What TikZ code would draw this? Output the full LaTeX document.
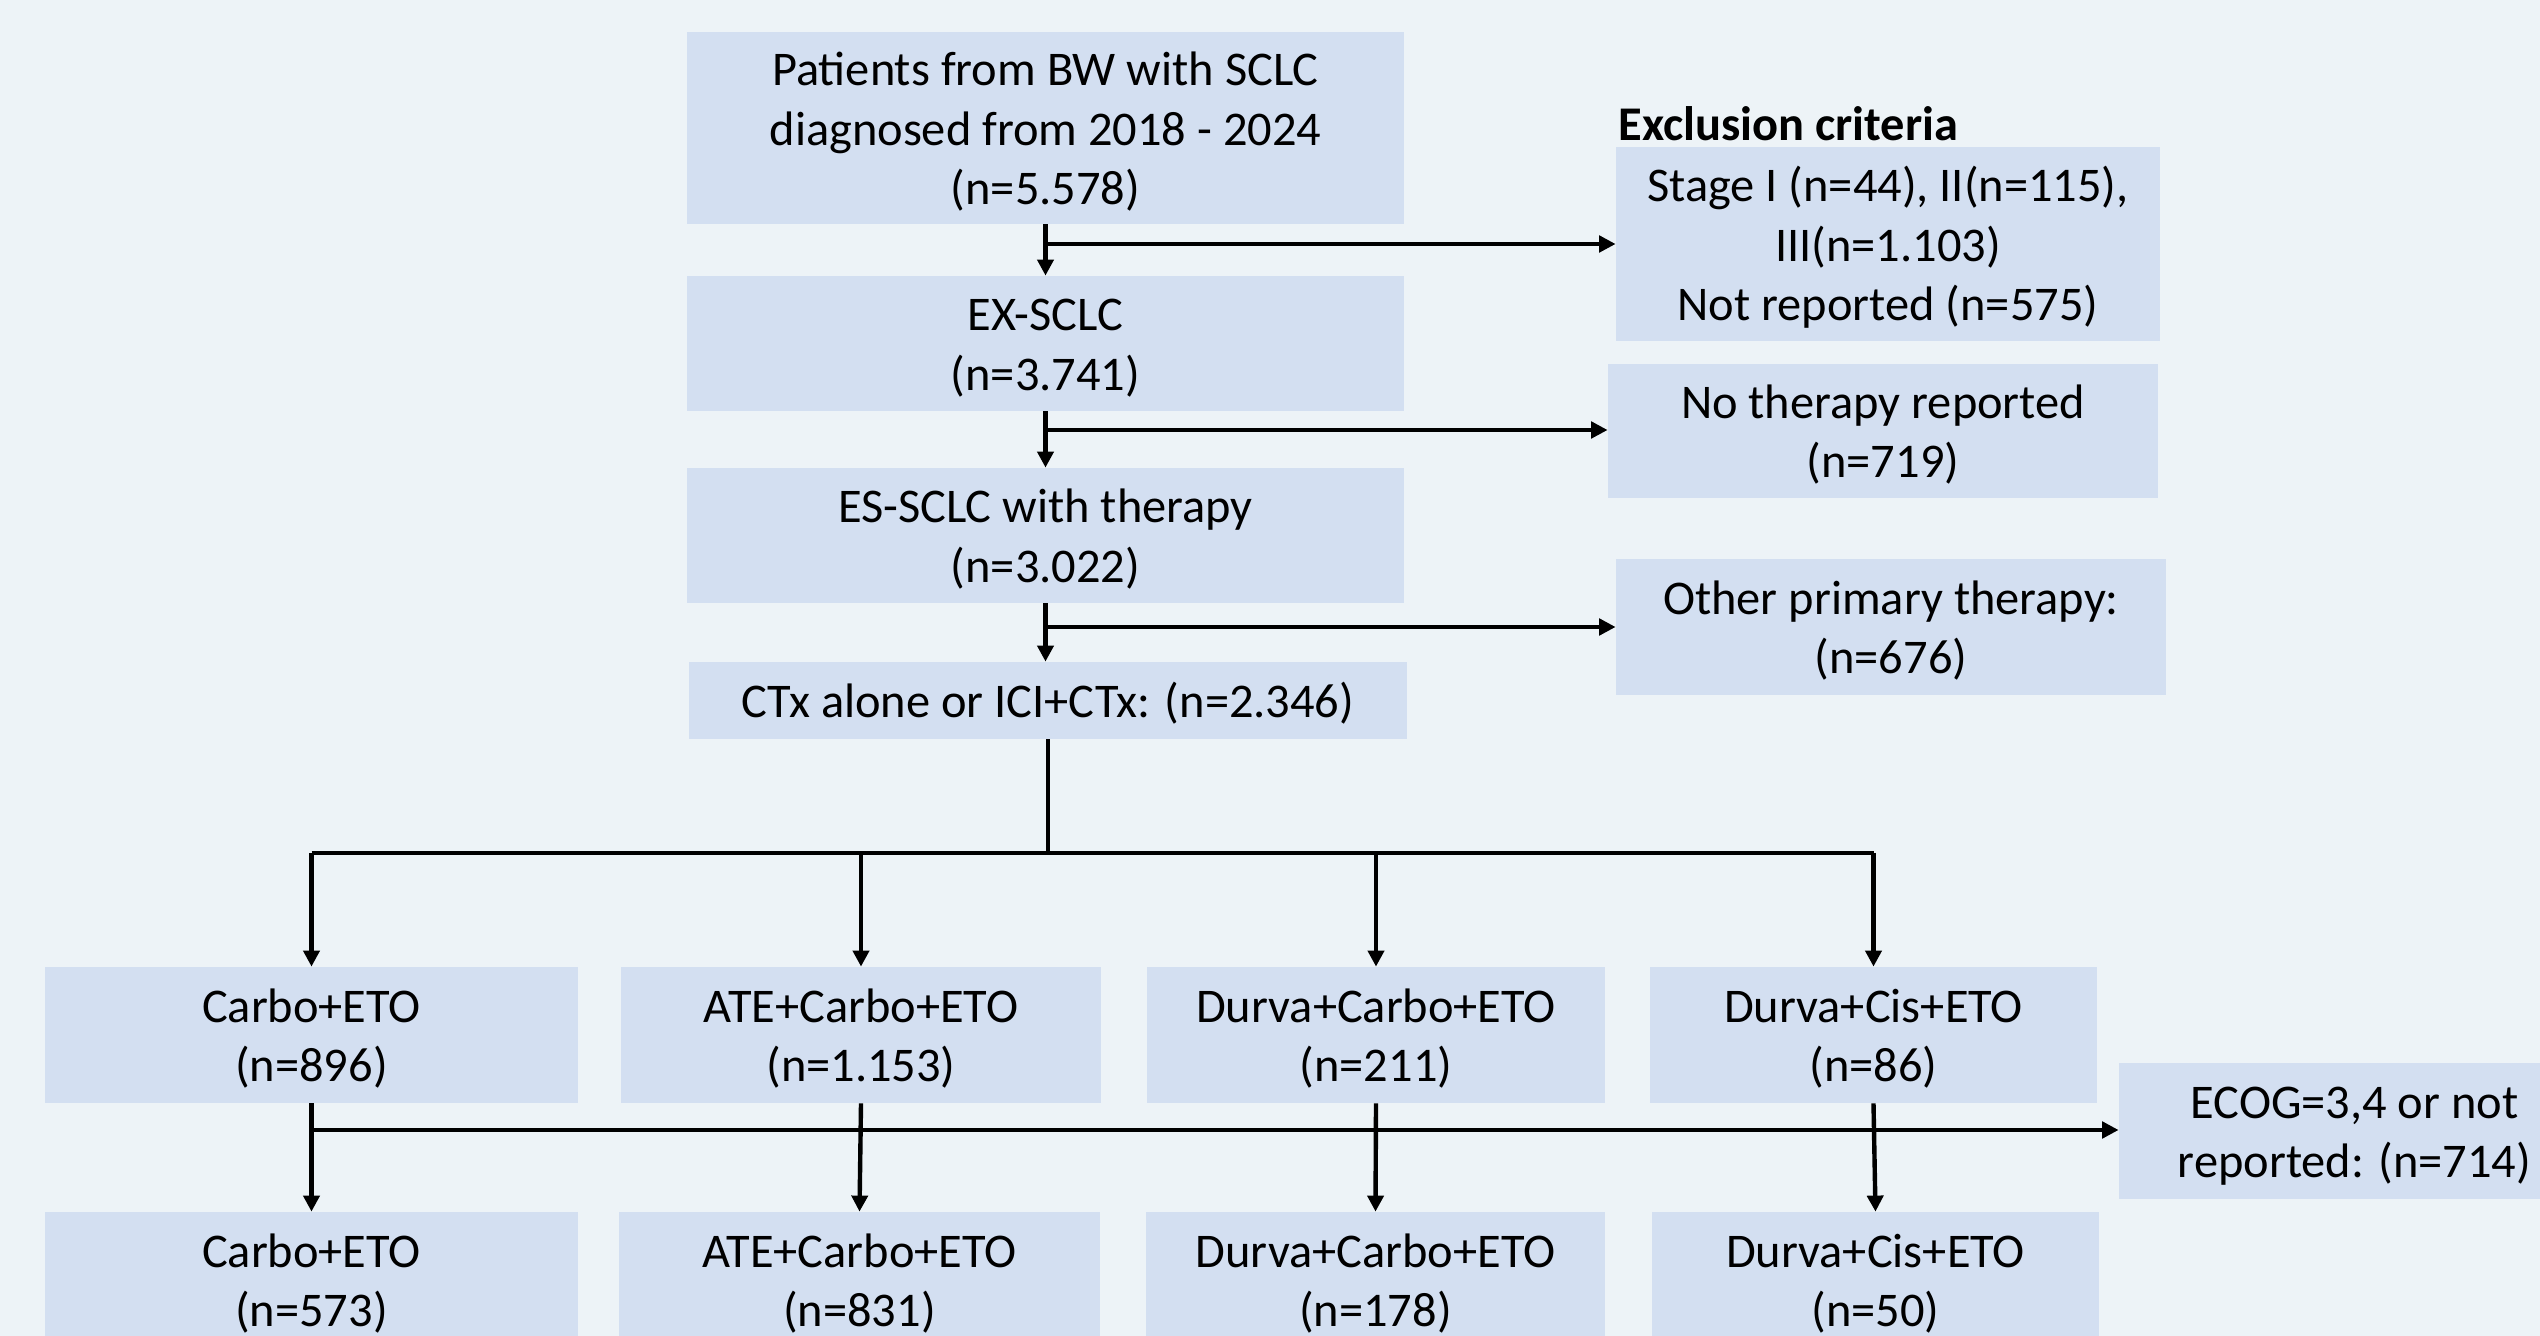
\documentclass[tikz,border=0pt]{standalone}
\usepackage{fontspec}
\setmainfont{Carlito}
\usetikzlibrary{arrows.meta,calc}
\definecolor{bgc}{HTML}{EDF3F7}
\definecolor{boxc}{HTML}{D3DFF1}
\newsavebox{\txtbox}
\newcommand{\bxtext}[1]{\sbox{\txtbox}{\begin{tabular}{@{}c@{}}#1\end{tabular}}\raisebox{-2.6pt}[\ht\txtbox][\dp\txtbox]{\usebox{\txtbox}}}
\begin{document}
\begin{tikzpicture}[x=0.5pt,y=-0.5pt,
  box/.style={fill=boxc, draw=none, inner sep=0pt,
    font=\fontsize{24.2}{29.6}\selectfont},
  thinarrow/.style={line width=2.2pt, -{Triangle[length=8pt,width=8pt]}},
  thinline/.style={line width=2.2pt},
  thickarrow/.style={line width=2.1pt, -{Triangle[length=8.3pt,width=8.2pt]}}]
\useasboundingbox (0,0) rectangle (2540,1336);
\fill[bgc] (0,0) rectangle (2540,1336);

% main column
\node[box, minimum width=358.5pt, minimum height=96pt] (top) at (1045.5,128)
  {\bxtext{Patients from BW with SCLC\\diagnosed from 2018 - 2024\\(n=5.578)}};
\node[box, minimum width=358.5pt, minimum height=67.5pt] (ex) at (1045.5,343.5)
  {\bxtext{EX-SCLC\\(n=3.741)}};
\node[box, minimum width=358.5pt, minimum height=67.5pt] (es) at (1045.5,535.5)
  {\bxtext{ES-SCLC with therapy\\(n=3.022)}};
\node[box, minimum width=359pt, minimum height=38.5pt] (ctx) at (1048,700.5)
  {\bxtext{CTx alone or ICI+CTx: (n=2.346)}};

% exclusions
\node[anchor=west, inner sep=0pt, font=\fontsize{24.2}{29.6}\selectfont\bfseries] (lbl) at (1618,124)
  {Exclusion criteria};
\node[box, minimum width=272pt, minimum height=97pt] (excl) at (1888,244)
  {\bxtext{Stage I (n=44), II(n=115),\\III(n=1.103)\\Not reported (n=575)}};
\node[box, minimum width=275pt, minimum height=67pt] (noth) at (1883,431)
  {\bxtext{No therapy reported\\(n=719)}};
\node[box, minimum width=275pt, minimum height=68pt] (other) at (1891,627)
  {\bxtext{Other primary therapy:\\(n=676)}};

% row 1
\node[box, minimum width=266.5pt, minimum height=68pt] (r1a) at (311.5,1035) {\bxtext{Carbo+ETO\\(n=896)}};
\node[box, minimum width=240pt, minimum height=68pt] (r1b) at (861,1035) {\bxtext{ATE+Carbo+ETO\\(n=1.153)}};
\node[box, minimum width=229pt, minimum height=68pt] (r1c) at (1376,1035) {\bxtext{Durva+Carbo+ETO\\(n=211)}};
\node[box, minimum width=223.5pt, minimum height=68pt] (r1d) at (1873.5,1035) {\bxtext{Durva+Cis+ETO\\(n=86)}};

% row 2
\node[box, minimum width=266.5pt, minimum height=68pt] (r2a) at (311.5,1280) {\bxtext{Carbo+ETO\\(n=573)}};
\node[box, minimum width=240.5pt, minimum height=68pt] (r2b) at (859.5,1280) {\bxtext{ATE+Carbo+ETO\\(n=831)}};
\node[box, minimum width=229.5pt, minimum height=68pt] (r2c) at (1375.5,1280) {\bxtext{Durva+Carbo+ETO\\(n=178)}};
\node[box, minimum width=223.5pt, minimum height=68pt] (r2d) at (1875.5,1280) {\bxtext{Durva+Cis+ETO\\(n=50)}};

% ECOG
\node[box, minimum width=235.5pt, minimum height=68pt] (ecog) at (2354.5,1131)
  {\bxtext{ECOG=3,4 or not\\reported: (n=714)}};

% vertical flow
\draw[thinarrow] (top.south) -- (ex.north);
\draw[thinarrow] (ex.south) -- (es.north);
\draw[thinarrow] (es.south) -- (es.south |- ctx.north);

% exclusion arrows
\coordinate (h1) at (1045.5,244);
\coordinate (h2) at (1045.5,430);
\coordinate (h3) at (1045.5,627);
\draw[thickarrow] (h1) -- (h1 -| excl.west);
\draw[thickarrow] (h2) -- (h2 -| noth.west);
\draw[thickarrow] (h3) -- (h3 -| other.west);

% bracket
\coordinate (br) at (1048,853);
\draw[thinline] (ctx.south) -- (ctx.south |- br);
\draw[thinline] (r1a.north |- br) -- (r1d.north |- br);
\draw[thinarrow] (r1a.north |- br) -- (r1a.north);
\draw[thinarrow] (r1b.north |- br) -- (r1b.north);
\draw[thinarrow] (r1c.north |- br) -- (r1c.north);
\draw[thinarrow] (r1d.north |- br) -- (r1d.north);

% row1 -> row2
\draw[thinarrow] (r1a.south) -- (r2a.north);
\draw[thinarrow] (r1b.south) -- (r2b.north);
\draw[thinarrow] (r1c.south) -- (r2c.north);
\draw[thinarrow] (r1d.south) -- (r2d.north);

% ECOG exclusion
\coordinate (ec) at (311.5,1130);
\draw[thickarrow] (ec) -- (ec -| ecog.west);
\end{tikzpicture}
\end{document}
